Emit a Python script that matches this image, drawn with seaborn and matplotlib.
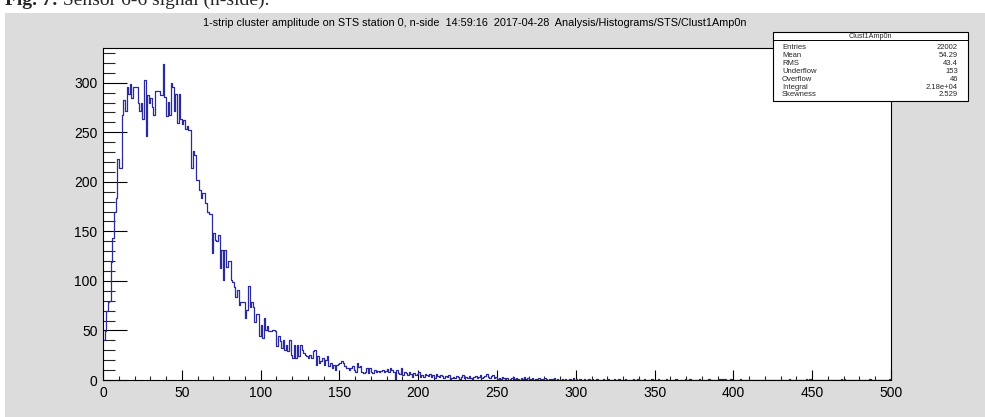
import numpy as np
import pandas as pd
import matplotlib
matplotlib.use("Agg")
import matplotlib.pyplot as plt
from matplotlib.patches import Rectangle
from matplotlib.lines import Line2D
from matplotlib.ticker import MultipleLocator
import seaborn as sns

# ---------------- data (counts per 1-unit bin) ----------------
b000_059 = [40, 49, 70, 79, 80, 119, 143, 170, 184, 223,
            214, 214, 267, 283, 271, 296, 289, 299, 285, 296,
            296, 296, 280, 271, 280, 263, 303, 246, 288, 279,
            285, 275, 267, 292, 292, 292, 288, 288, 319, 286,
            266, 281, 267, 300, 296, 271, 289, 259, 289, 263,
            258, 262, 253, 256, 252, 252, 214, 231, 227, 202]
b060_120 = [202, 192, 184, 189, 189, 179, 170, 168, 168, 128,
            148, 141, 140, 146, 113, 131, 101, 131, 114, 120,
            120, 101, 99, 94, 84, 91, 76, 79, 79, 79,
            63, 71, 95, 74, 79, 74, 59, 67, 67, 44,
            56, 42, 63, 50, 54, 49, 49, 50, 50, 49,
            34, 44, 39, 32, 40, 30, 35, 29, 40, 25,
            22]
b121_204 = [35, 22, 35, 24, 35, 30, 27, 25, 24, 22,
            25, 22, 29, 30, 15, 24, 17, 19, 22, 15,
            20, 24, 14, 17, 12, 15, 10, 15, 16, 17,
            19, 17, 14, 12, 12, 10, 12, 14, 10, 8,
            17, 13, 14, 8, 7, 8, 12, 7, 12, 8,
            7, 10, 8, 9, 8, 9, 10, 8, 9, 11,
            8, 12, 10, 8, 1, 10, 7, 6, 12, 5,
            8, 7, 5, 8, 6, 3, 7, 5, 6, 8,
            3, 5, 3, 6]
b205_250 = [5, 4, 6, 3, 5, 2, 6, 4, 3, 5,
            4, 2, 4, 3, 5, 1, 2, 3, 2, 4,
            3, 1, 3, 5, 2, 3, 2, 4, 2, 1,
            3, 4, 2, 3, 5, 2, 3, 4, 6, 3,
            2, 4, 5, 2, 3, 1]
b251_300 = [2, 1, 3, 2, 1, 2, 0, 1, 2, 3,
            1, 2, 1, 0, 2, 1, 3, 1, 2, 0,
            1, 2, 0, 1, 1, 2, 0, 1, 0, 2,
            1, 0, 1, 0, 1, 2, 0, 1, 0, 0,
            1, 0, 1, 0, 0, 1, 0, 2, 0, 1]
b301_399 = [0, 1, 0, 0, 1, 0, 0, 1, 0, 1,
            0, 0, 1, 0, 0, 0, 1, 0, 0, 1,
            0, 0, 0, 1, 0, 0, 1, 0, 0, 0,
            1, 0, 0, 0, 0, 1, 0, 0, 1, 0,
            0, 0, 1, 0, 0, 0, 0, 1, 0, 0,
            0, 1, 0, 0, 0, 0, 1, 0, 0, 0,
            0, 0, 1, 0, 0, 0, 0, 0, 1, 0,
            0, 1, 0, 0, 0, 0, 0, 1, 0, 0,
            0, 0, 0, 1, 0, 0, 0, 0, 0, 0,
            1, 0, 1, 1, 0, 0, 0, 1, 0]
b400_499 = [0, 0, 0, 0, 1, 0, 0, 0, 0, 0,
            0, 0, 0, 0, 0, 0, 0, 0, 0, 0,
            0, 0, 0, 0, 0, 0, 0, 0, 0, 0,
            0, 0, 0, 0, 0, 1, 0, 0, 0, 0,
            0, 0, 0, 0, 0, 0, 1, 0, 1, 0,
            0, 0, 0, 0, 0, 0, 0, 0, 0, 0,
            0, 0, 0, 0, 0, 0, 0, 0, 1, 0,
            1, 0, 0, 0, 0, 0, 0, 0, 0, 0,
            0, 0, 0, 0, 0, 0, 1, 0, 0, 0,
            0, 0, 0, 0, 0, 0, 0, 0, 0, 1]

x_ticks = [0, 50, 100, 150, 200, 250, 300, 350, 400, 450, 500]
y_ticks = [0, 50, 100, 150, 200, 250, 300]

title_text = ("1-strip cluster amplitude on STS station 0, n-side  14:59:16  "
              "2017-04-28  Analysis/Histograms/STS/Clust1Amp0n")
caption_bold = "Fig. 7:"
caption_rest = " Sensor 6-6 signal (n-side)."
stats_title = "Clust1Amp0n"
stats_labels = ["Entries", "Mean", "RMS", "Underflow", "Overflow", "Integral", "Skewness"]
stats_values = ["22002", "54.29", "43.4", "153", "46", "2.18e+04", "2.529"]

# ---------------- build table ----------------
counts = np.array(b000_059 + b060_120 + b121_204 + b205_250 + b251_300
                  + b301_399 + b400_499, dtype=float)
df = pd.DataFrame({"amp": np.arange(len(counts)) + 0.5, "n": counts})

# ---------------- figure ----------------
W, H = 985, 417
def fx(x):
    return x / W
def fy(y):
    return 1 - y / H

sns.set_style("white")
plt.rcParams["font.family"] = ["Liberation Sans", "DejaVu Sans"]

fig = plt.figure(figsize=(W / 100, H / 100), dpi=100)
fig.patch.set_facecolor("white")
fig.add_artist(Rectangle((fx(5), 0), (W - 5) / W, (H - 13) / H,
                         transform=fig.transFigure, facecolor="#dcdcdc",
                         edgecolor="none", zorder=-10))

ax = fig.add_axes([fx(103), fy(380), 788 / W, 332 / H])
ax.set_facecolor("white")

sns.histplot(data=df, x="amp", weights="n", bins=500, binrange=(0, 500),
             element="step", fill=False, color="#2a2a9c", linewidth=0.9, ax=ax)

ax.set_xlim(0, 500)
ax.set_ylim(0, 335)
ax.set_xlabel("")
ax.set_ylabel("")
ax.set_xticks(x_ticks)
ax.set_xticklabels([str(v) for v in x_ticks])
ax.set_yticks(y_ticks)
ax.set_yticklabels([str(v) for v in y_ticks])
ax.xaxis.set_minor_locator(MultipleLocator(10))
ax.yaxis.set_minor_locator(MultipleLocator(10))
ax.tick_params(axis="x", which="major", direction="in", length=7.5, width=0.8,
               pad=4, labelsize=10, colors="black", bottom=True, top=False)
ax.tick_params(axis="x", which="minor", direction="in", length=3.2, width=0.8,
               bottom=True, top=False)
ax.tick_params(axis="y", which="major", direction="in", length=17, width=0.8,
               pad=4, labelsize=10, colors="black", left=True, right=False)
ax.tick_params(axis="y", which="minor", direction="in", length=8.5, width=0.8,
               left=True, right=False)
for s in ax.spines.values():
    s.set_visible(True)
    s.set_color("black")
    s.set_linewidth(0.8)

# title
fig.text(fx(475), fy(22.5), title_text, ha="center", va="center",
         fontsize=7.8, color="black")

# caption (cut by top edge, as in the reference)
t1 = fig.text(fx(5), fy(5), caption_bold, ha="left", va="baseline",
              fontsize=14, fontweight="bold", family="Liberation Serif")
fig.canvas.draw()
bb = t1.get_window_extent(renderer=fig.canvas.get_renderer())
fig.text(bb.x1 / W, fy(5), caption_rest, ha="left", va="baseline",
         fontsize=14, family="Liberation Serif")

# stats box
bx0, bx1, by0, by1 = 773, 968, 32, 101
fig.add_artist(Rectangle((fx(bx0), fy(by1)), (bx1 - bx0) / W, (by1 - by0) / H,
                         transform=fig.transFigure, facecolor="white",
                         edgecolor="black", linewidth=0.8, zorder=5))
fig.add_artist(Line2D([fx(bx0), fx(bx1)], [fy(40), fy(40)],
                      transform=fig.transFigure, color="black", lw=0.7, zorder=6))
fig.text(fx((bx0 + bx1) / 2), fy(36), stats_title, ha="center", va="center",
         fontsize=5.2, zorder=7)
row_y = np.linspace(47.5, 95, len(stats_labels))
for lab, val, yy in zip(stats_labels, stats_values, row_y):
    fig.text(fx(782), fy(yy), lab, ha="left", va="center", fontsize=5.5, zorder=7)
    fig.text(fx(958), fy(yy), val, ha="right", va="center", fontsize=5.5, zorder=7)

fig.savefig("out.png", dpi=100, facecolor=fig.get_facecolor())
